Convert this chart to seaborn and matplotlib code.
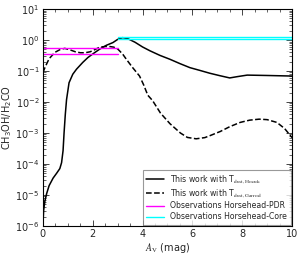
import numpy as np
import pandas as pd
import matplotlib
matplotlib.use("Agg")
import matplotlib.pyplot as plt
import seaborn as sns
from matplotlib.ticker import MultipleLocator, LogLocator, NullFormatter

# Model curves (A_V in mag, CH3OH/H2CO ratio)
av_hocuk = [0.0, 0.03, 0.08, 0.15, 0.25, 0.41, 0.55, 0.68, 0.75, 0.81,
            0.85, 0.9, 0.95, 1.05, 1.2, 1.35, 1.6, 1.81, 2.05, 2.28,
            2.55, 2.81, 3.0, 3.2, 3.4, 3.7, 4.0, 4.3, 4.7, 5.1,
            5.5, 5.9, 6.3, 6.7, 7.1, 7.5, 7.8, 8.2, 9.0, 10.0]
ratio_hocuk = [1.0e-6, 3.2e-6, 6.3e-6, 1.1e-5, 2.0e-5, 3.5e-5, 5.0e-5, 7.1e-5, 1.1e-4, 2.7e-4,
               1.0e-3, 4.0e-3, 1.2e-2, 4.2e-2, 7.9e-2, 0.115, 0.19, 0.275, 0.38, 0.51,
               0.68, 0.83, 1.05, 1.2, 1.12, 0.85, 0.60, 0.45, 0.32, 0.24,
               0.174, 0.129, 0.105, 0.085, 0.071, 0.060, 0.066, 0.074, 0.072, 0.069]

av_garrod = [0.0, 0.1, 0.25, 0.48, 0.7, 0.88, 1.1, 1.3, 1.5, 1.7,
             1.9, 2.1, 2.28, 2.5, 2.68, 2.85, 3.01, 3.2, 3.35, 3.6,
             3.88, 4.05, 4.21, 4.4, 4.72, 5.1, 5.52, 5.8, 6.15, 6.5,
             6.72, 7.12, 7.5, 7.92, 8.3, 8.68, 9.0, 9.39, 9.7, 10.0]
ratio_garrod = [0.089, 0.14, 0.25, 0.40, 0.50, 0.54, 0.48, 0.42, 0.39, 0.39,
                0.42, 0.50, 0.59, 0.62, 0.62, 0.59, 0.51, 0.355, 0.24, 0.13,
                0.069, 0.035, 0.0166, 0.0112, 0.0044, 0.0020, 1.0e-3, 7.2e-4, 6.5e-4, 7.1e-4,
                8.3e-4, 1.12e-3, 1.6e-3, 2.2e-3, 2.6e-3, 2.8e-3, 2.7e-3, 2.2e-3, 1.4e-3, 7.1e-4]

# Observed ratios (upper/lower) and the A_V span they are drawn over
pdr_span = [0.0, 3.0]
pdr_ratios = [0.55, 0.36]
core_span = [3.0, 10.0]
core_ratios = [1.3, 1.07]

sns.set_theme(style="ticks")
plt.rcParams['font.family'] = ['DejaVu Sans']
plt.rcParams['xtick.direction'] = 'in'
plt.rcParams['ytick.direction'] = 'in'
plt.rcParams['xtick.top'] = True
plt.rcParams['ytick.right'] = True

fig = plt.figure(figsize=(3.02, 2.68), dpi=100)
ax = fig.add_axes([0.142, 0.157, 0.825, 0.809])

df_h = pd.DataFrame({'av': av_hocuk, 'ratio': ratio_hocuk})
df_g = pd.DataFrame({'av': av_garrod, 'ratio': ratio_garrod})

sns.lineplot(data=df_h, x='av', y='ratio', ax=ax, color='black', lw=1.1,
             label=r'This work with T$_{\rm dust, Hocuk}$')
sns.lineplot(data=df_g, x='av', y='ratio', ax=ax, color='black', lw=1.1,
             linestyle='--', label=r'This work with T$_{\rm dust, Garrod}$')

for i, r in enumerate(pdr_ratios):
    sns.lineplot(x=pdr_span, y=[r, r], ax=ax, color='magenta', lw=1.0,
                 label='Observations Horsehead-PDR' if i == 0 else None)
for i, r in enumerate(core_ratios):
    sns.lineplot(x=core_span, y=[r, r], ax=ax, color='cyan', lw=1.0,
                 label='Observations Horsehead-Core' if i == 0 else None)

ax.set_yscale('log')
ax.set_xlim(0, 10)
ax.set_ylim(1e-6, 1e1)
ax.xaxis.set_major_locator(MultipleLocator(2))
ax.xaxis.set_minor_locator(MultipleLocator(0.5))
ax.yaxis.set_major_locator(LogLocator(base=10, numticks=10))
ax.yaxis.set_minor_locator(LogLocator(base=10, subs=np.arange(2, 10), numticks=20))
ax.yaxis.set_minor_formatter(NullFormatter())
ax.tick_params(which='major', length=4, width=0.6, labelsize=7, pad=2.5)
ax.tick_params(which='minor', length=2, width=0.5)
for s in ax.spines.values():
    s.set_linewidth(0.8)
    s.set_color('black')

ax.set_xlabel(r'$A_{\rm V}$ (mag)', fontsize=7, labelpad=1.5, math_fontfamily='stix')
ax.set_ylabel(r'CH$_3$OH/H$_2$CO', fontsize=7, labelpad=1)

leg = ax.legend(loc='lower right', fontsize=5.6, frameon=True, fancybox=False,
                edgecolor='gray', handlelength=2.3, borderaxespad=0.15,
                labelspacing=0.25, borderpad=0.45)
leg.get_frame().set_linewidth(0.8)
for t in leg.get_texts():
    t.set_math_fontfamily('stix')

fig.savefig('out.png', dpi=100)
